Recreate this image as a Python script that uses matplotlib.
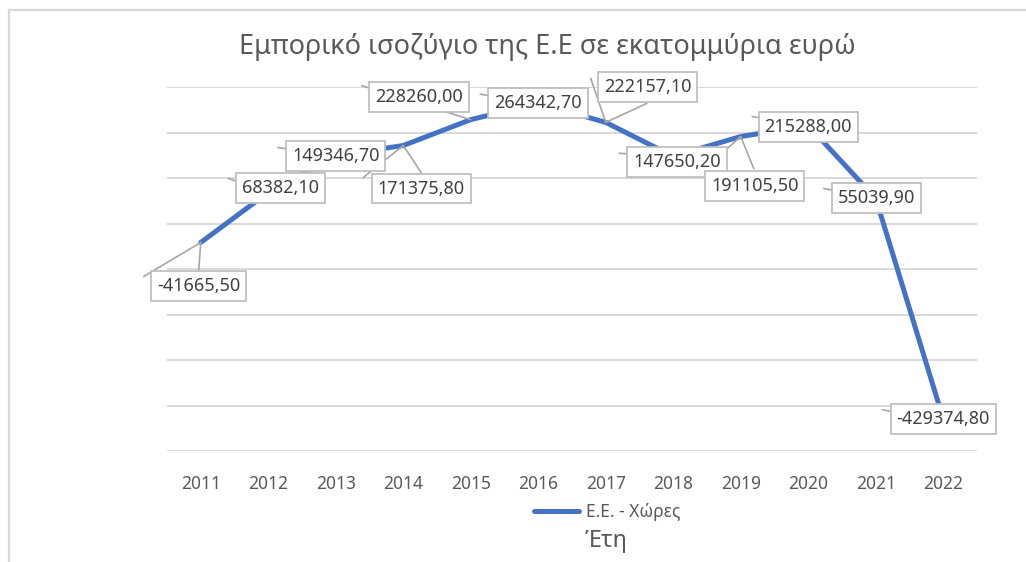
#plot.py
#EU trade balance line chart (Excel style)
import matplotlib
matplotlib.use("Agg")
import matplotlib.pyplot as plt
from matplotlib.lines import Line2D

plt.rcParams['font.family'] = ['Noto Sans', 'DejaVu Sans']

#data
years = ["2011", "2012", "2013", "2014", "2015", "2016",
         "2017", "2018", "2019", "2020", "2021", "2022"]
balance = [-41665.50, 68382.10, 149346.70, 171375.80, 228260.00, 264342.70,
           222157.10, 147650.20, 191105.50, 215288.00, 55039.90, -429374.80]
series_name = "Ε.Ε. - Χώρες"
title = "Εμπορικό ισοζύγιο της Ε.Ε σε εκατομμύρια ευρώ"
xlabel = "Έτη"

#label box offsets from the point (pixels, y down) and leader line ends
label_offsets = [(-2, 44), (12, -4), (0, 0), (18, 43), (-52, -23), (0, 0),
                 (42, -35), (4, 6), (14, 49), (0, 1), (1, 0), (0, 0)]
leader_ends = [[(-57, 34), (-2, 28)], [(-40, -14)], [(-58, -8)],
               [(18, 27), (-40, 32)], [(-109, -34)], [(-58, -9)],
               [(-15, -44), (41, -19)], [(-54, -3)], [(-44, 39), (13, 32)],
               [(-56, -9)], [(-52, -10)], [(-61, -9)]]

blue = "#4472C4"
text_grey = "#595959"
grid_grey = "#D9D9D9"

fig = plt.figure(figsize=(10.26, 5.62), dpi=100)
ax = fig.add_axes([167/1026, 1-451/562, 810/1026, 364/562])

x = list(range(len(years)))
ax.plot(x, balance, color=blue, lw=3.6, solid_capstyle="round", zorder=2)

ax.set_xlim(-0.5, len(years) - 0.5)
ax.set_ylim(-500000, 300000)
ax.set_yticks(range(-500000, 300001, 100000))
ax.yaxis.grid(True, color=grid_grey, lw=1.4)
ax.set_axisbelow(True)
ax.tick_params(axis="y", left=False, labelleft=False)
ax.set_xticks(x)
ax.set_xticklabels(years, fontsize=12.5, color=text_grey)
ax.tick_params(axis="x", length=0, pad=17)
for s in ax.spines.values():
    s.set_visible(False)

#data labels with leader lines
for i, v in enumerate(balance):
    txt = f"{v:.2f}".replace(".", ",")
    for dx, dy in leader_ends[i]:
        ax.annotate("", xy=(i, v), xytext=(dx, -dy), textcoords="offset pixels",
                    arrowprops=dict(arrowstyle="-", color="#A6A6A6", lw=1.2,
                                    shrinkA=0, shrinkB=0), zorder=3)
    ox, oy = label_offsets[i]
    ax.annotate(txt, xy=(i, v), xytext=(ox, -oy), textcoords="offset pixels",
                ha="center", va="center", fontsize=13, color="#404040",
                bbox=dict(boxstyle="square,pad=0.33", fc="white", ec="#BFBFBF", lw=1.3),
                zorder=4)

fig.text(547/1026, 1-47/562, title, ha="center", va="center",
         fontsize=19.5, color=text_grey)
fig.text(606/1026, 1-541/562, xlabel, ha="center", va="center",
         fontsize=17, color=text_grey)

handle = Line2D([], [], color=blue, lw=3.6, solid_capstyle="round")
leg = fig.legend([handle], [series_name], loc="center",
                 bbox_to_anchor=(607/1026, 1-512/562), frameon=False,
                 fontsize=12.5, handlelength=2.6, handletextpad=0.4)
for t in leg.get_texts():
    t.set_color(text_grey)

#chart area border (left and top edges visible)
fig.add_artist(Line2D([9/1026, 9/1026], [0, 1-10/562], color=grid_grey, lw=1.6))
fig.add_artist(Line2D([9/1026, 1], [1-10/562, 1-10/562], color=grid_grey, lw=1.6))

fig.savefig("out.png", dpi=100)
